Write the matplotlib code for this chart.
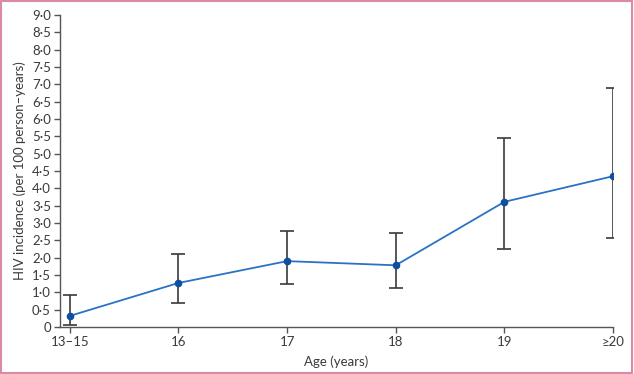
import numpy as np
import matplotlib.pyplot as plt
from matplotlib.patches import Rectangle

plt.rcParams['font.family'] = ['Lato', 'DejaVu Sans']

ages = ['13–15', '16', '17', '18', '19', '≥20']
incidence = [0.32, 1.27, 1.90, 1.78, 3.61, 4.35]
ci_low = [0.05, 0.70, 1.23, 1.12, 2.25, 2.58]
ci_high = [0.92, 2.12, 2.76, 2.70, 5.45, 6.88]

yticks = np.arange(0, 9.01, 0.5)
ytick_labels = ['0'] + [('%.1f' % v).replace('.', '·') for v in yticks[1:]]

fig = plt.figure(figsize=(6.34, 3.74), dpi=100)
ax = fig.add_axes([60 / 634, 1 - 327 / 374, 553 / 634, 312 / 374])

x = np.arange(len(ages))
inc = np.array(incidence)
err = [inc - np.array(ci_low), np.array(ci_high) - inc]

ax.errorbar(x, inc, yerr=err, fmt='none', ecolor='#3a3a3a', elinewidth=1.2,
            capsize=5, capthick=1.2, zorder=2)
ax.plot(x, inc, color='#2a73c4', lw=1.3, zorder=3)
ax.plot(x, inc, 'o', color='#0d4fa0', ms=4.5, zorder=4)

ax.set_xlim(-0.09, 5)
ax.set_ylim(0, 9)
ax.set_xticks(x)
ax.set_xticklabels(ages)
ax.set_yticks(yticks)
ax.set_yticklabels(ytick_labels)

for s in ['top', 'right']:
    ax.spines[s].set_visible(False)
for s in ['left', 'bottom']:
    ax.spines[s].set_color('#555555')
    ax.spines[s].set_linewidth(1.0)
ax.tick_params(colors='#555555', labelcolor='#3a3a3a', labelsize=9.5, length=4, width=1.0, pad=2.5)

ax.set_xlabel('Age (years)', fontsize=9.5, color='#3a3a3a', labelpad=5)
ax.set_ylabel('HIV incidence (per 100 person–years)', fontsize=9.5, color='#3a3a3a', labelpad=4)

fig.patches.append(Rectangle((0.001, 0.002), 0.996, 0.995, transform=fig.transFigure,
                             fill=False, edgecolor='#d98aa5', lw=1.5))

fig.savefig('out.png', dpi=100)
